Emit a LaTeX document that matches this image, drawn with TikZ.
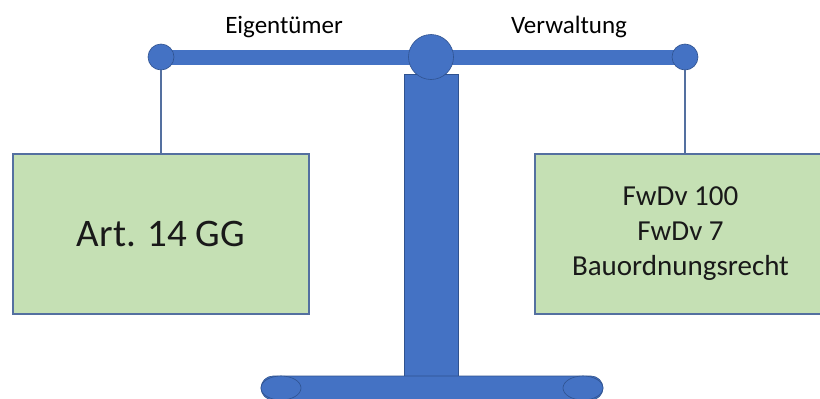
\documentclass[tikz,border=0pt]{standalone}
\usepackage{fontspec}
\setmainfont{Carlito}
\usetikzlibrary{positioning, shapes.geometric}

\definecolor{scaleBlue}{HTML}{4472C4}
\definecolor{scaleEdge}{HTML}{2F528F}
\definecolor{panGreen}{HTML}{C5E0B4}
\definecolor{panEdge}{HTML}{5470A0}

\pgfdeclarelayer{background}
\pgfsetlayers{background, main}

\begin{document}
\begin{tikzpicture}[x = 1pt, y = -1pt,
        part/.style = {fill = scaleBlue, draw = scaleEdge, line width = 0.6pt, inner sep = 0pt},
        pan/.style = {rectangle, fill = panGreen, draw = panEdge, line width = 1.3pt, text = black!90},
        rope/.style = {draw = panEdge, line width = 1.3pt}]
        \useasboundingbox (0, 0) rectangle (820, 399);

        % stand
        \node[rectangle, part, minimum width = 54pt, minimum height = 302pt] (post) at (431, 225) {};
        \node[rectangle, part, rounded corners = 12pt, minimum width = 342pt, minimum height = 24pt] (foot) at (432, 388) {};
        \node[ellipse, part, minimum width = 40pt, minimum height = 24pt] (footL) at (281, 388) {};
        \node[ellipse, part, minimum width = 40pt, minimum height = 24pt] (footR) at (583, 388) {};

        % beam
        \node[circle, part, minimum size = 45pt] (pivot) at (431, 57) {};
        \node[circle, part, minimum size = 26pt] (lEnd) at (161, 57) {};
        \node[circle, part, minimum size = 26pt] (rEnd) at (685, 57) {};
        \begin{pgfonlayer}{background}
            \draw[scaleBlue, line width = 15pt] (lEnd.center) -- (rEnd.center);
        \end{pgfonlayer}

        \node[anchor = base, font = \fontsize{25}{30}\selectfont] (owner) at (284, 33) {Eigentümer};
        \node[anchor = base, font = \fontsize{25}{30}\selectfont] (admin) at (569, 33) {Verwaltung};

        % pans
        \node[pan, minimum width = 296pt, minimum height = 160pt, font = \fontsize{39}{47}\selectfont] (leftPan) at (161, 234) {Art. 14 GG};
        \node[pan, minimum width = 291pt, minimum height = 160pt, align = center, font = \fontsize{29}{35}\selectfont] (rightPan) at (680.5, 234) {FwDv 100\\FwDv 7\\Bauordnungsrecht};

        \draw[rope] (lEnd) -- (leftPan);
        \draw[rope] (rEnd) -- (rEnd |- rightPan.north);
      \end{tikzpicture}
\end{document}
